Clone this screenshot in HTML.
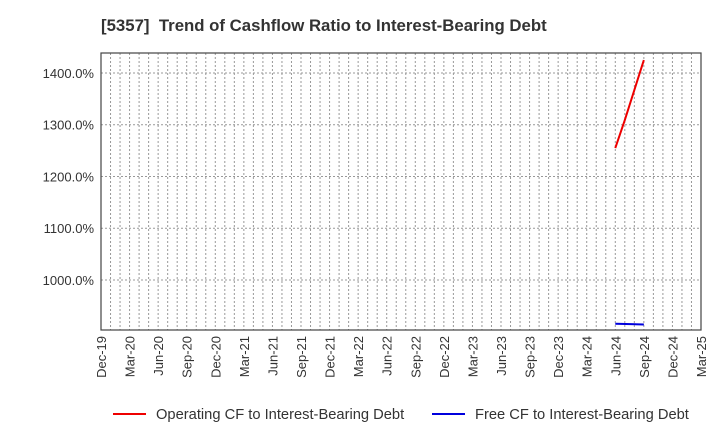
<!DOCTYPE html>
<html><head><meta charset="utf-8"><style>
body{margin:0;background:#fff;font-family:"Liberation Sans",Arial,sans-serif;}
</style></head><body>
<svg width="720" height="440" xmlns="http://www.w3.org/2000/svg" font-family="Liberation Sans, Arial, sans-serif">
<text x="101" y="31" font-size="16.8" font-weight="bold" fill="#333" xml:space="preserve">[5357]  Trend of Cashflow Ratio to Interest-Bearing Debt</text>
<g id="grid"></g>
<g id="axes"></g>
<g id="series"></g>
<g>
<line x1="113" y1="414" x2="146" y2="414" stroke="#e00" stroke-width="2"/>
<text x="156" y="419" font-size="14.7" fill="#333">Operating CF to Interest-Bearing Debt</text>
<line x1="432" y1="414" x2="465" y2="414" stroke="#00d" stroke-width="2"/>
<text x="475" y="419" font-size="14.7" fill="#333">Free CF to Interest-Bearing Debt</text>
</g>
</svg>
<script>
const xTickLabels=["Dec-19","Mar-20","Jun-20","Sep-20","Dec-20","Mar-21","Jun-21","Sep-21","Dec-21","Mar-22","Jun-22","Sep-22","Dec-22","Mar-23","Jun-23","Sep-23","Dec-23","Mar-24","Jun-24","Sep-24","Dec-24","Mar-25"];
const yTicks=[1000,1100,1200,1300,1400];
const opMonths=[54,55,56,57];
const opValues=[1255,1309,1367,1425];
const fcfMonths=[54,57];
const fcfValues=[915.5,914];
const L=101,R=701,T=53,B=330,NM=63;
const yMin=903.4,yMax=1438.6;
const xs=m=>L+m*(R-L)/NM;
const ys=v=>B-(v-yMin)/(yMax-yMin)*(B-T);
const NS="http://www.w3.org/2000/svg";
function mk(tag,attrs,parent){const e=document.createElementNS(NS,tag);for(const k in attrs)e.setAttribute(k,attrs[k]);parent.appendChild(e);return e;}
const grid=document.getElementById('grid'),axes=document.getElementById('axes'),series=document.getElementById('series');
for(let m=1;m<NM;m++){const l=mk('line',{x1:xs(m),x2:xs(m),y1:T,y2:B,stroke:'#999','stroke-width':1,'stroke-dasharray':'2,2'},grid);

}
yTicks.forEach(v=>{const l=mk('line',{x1:L,x2:R,y1:ys(v),y2:ys(v),stroke:'#999','stroke-width':1,'stroke-dasharray':'2,2'},grid);


const t=mk('text',{x:L-7,y:ys(v)+5,'font-size':13,fill:'#333','text-anchor':'end'},axes);t.textContent=v.toFixed(1)+'%';

});
const fr=mk('rect',{x:L,y:T,width:R-L,height:B-T,fill:'none',stroke:'#444','stroke-width':1.2},axes);


xTickLabels.forEach((s,i)=>{const x=xs(i*3);const t=mk('text',{x:0,y:0,'font-size':13,fill:'#333','text-anchor':'end',transform:`translate(${x+5},${B+6}) rotate(-90)`},axes);t.textContent=s;

});
function line(ms,vs,color,name){const p=mk('polyline',{points:ms.map((m,i)=>xs(m)+','+ys(vs[i])).join(' '),fill:'none',stroke:color,'stroke-width':2},series);

}
line(opMonths,opValues,'#e00','operating-cf-line');
line(fcfMonths,fcfValues,'#00d','free-cf-line');
</script>
</body></html>
